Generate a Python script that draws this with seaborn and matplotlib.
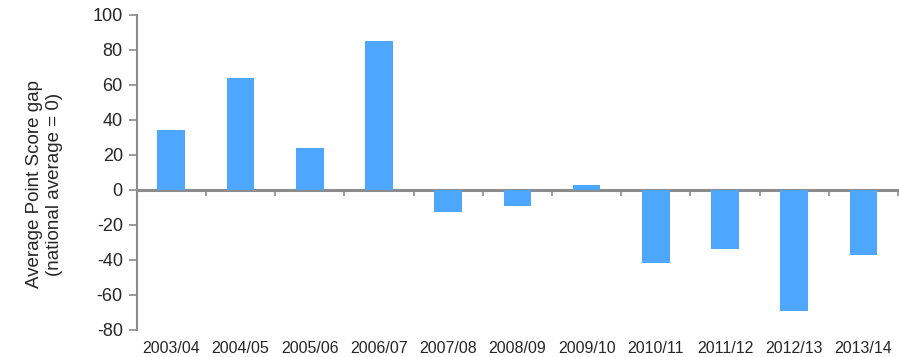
import numpy as np
import pandas as pd
import matplotlib
matplotlib.use("Agg")
import matplotlib.pyplot as plt
import seaborn as sns

# valores
anos = ["2003/04", "2004/05", "2005/06", "2006/07", "2007/08", "2008/09",
        "2009/10", "2010/11", "2011/12", "2012/13", "2013/14"]
gap = [34, 64, 24, 85, -12.5, -9, 3, -42, -34, -69, -37]

df = pd.DataFrame({"ano": anos, "gap": gap})

sns.set_style("white")
plt.rcParams["font.family"] = ["Liberation Sans", "DejaVu Sans"]
plt.rcParams["axes.unicode_minus"] = False

cinza = "#8c8c8c"
fig = plt.figure(figsize=(8.99, 3.57), dpi=100)
ax = fig.add_axes([0.152, 0.076, 0.847, 0.882])

sns.barplot(data=df, x="ano", y="gap", color="#4da6ff", saturation=1,
            width=0.4, linewidth=0, ax=ax)

ax.set_ylim(-80, 100)
ax.set_yticks(np.arange(-80, 101, 20))
ax.set_xlim(-0.5, len(anos) - 0.5)
ax.set_xlabel("")
ax.set_ylabel("Average Point Score gap\n(national average = 0)", fontsize=13.5,
              linespacing=1.2)
ax.yaxis.set_label_coords(-0.097, 0.463)

for s in ["top", "right", "bottom"]:
    ax.spines[s].set_visible(False)
ax.spines["left"].set_color(cinza)
ax.spines["left"].set_linewidth(1.5)

ax.tick_params(axis="y", direction="out", length=6, width=1.2, color=cinza,
               labelsize=13, pad=4, left=True)
ax.tick_params(axis="x", length=0, labelsize=11.5, pad=8)

# eixo no zero com marcas entre categorias
sec = ax.secondary_xaxis(0, transform=ax.transData)
sec.set_xticks(np.arange(len(anos) + 1) - 0.5)
sec.set_xticklabels([])
sec.tick_params(direction="out", length=4, width=1.2, color=cinza)
sec.spines["bottom"].set_color(cinza)
sec.spines["bottom"].set_linewidth(2.2)

fig.savefig("out.png", dpi=100)
